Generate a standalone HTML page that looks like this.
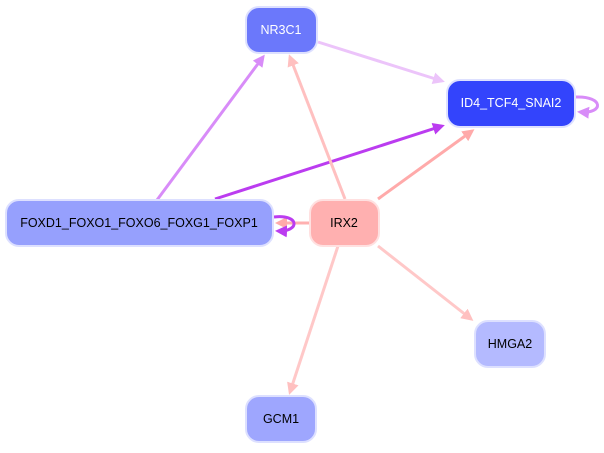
<!DOCTYPE html>
<html><head><style>
body{margin:0;background:#fff;width:604px;height:448px;overflow:hidden}
svg text{font-family:"Liberation Sans",sans-serif;font-size:12.5px;text-anchor:middle;dominant-baseline:central}
</style></head><body>
<svg width="604" height="448" viewBox="0 0 604 448">
<defs>
<marker id="a1" markerWidth="4" markerHeight="4" refX="3" refY="2" orient="auto" markerUnits="strokeWidth"><path d="M0,0L4,2L0,4z" fill="#d88cf8"/></marker>
<marker id="a2" markerWidth="4" markerHeight="4" refX="3" refY="2" orient="auto" markerUnits="strokeWidth"><path d="M0,0L4,2L0,4z" fill="#bb3cf0"/></marker>
<marker id="a3" markerWidth="4" markerHeight="4" refX="3" refY="2" orient="auto" markerUnits="strokeWidth"><path d="M0,0L4,2L0,4z" fill="#ecc4fa"/></marker>
<marker id="a4" markerWidth="4" markerHeight="4" refX="3" refY="2" orient="auto" markerUnits="strokeWidth"><path d="M0,0L4,2L0,4z" fill="#ffc0c0"/></marker>
<marker id="a5" markerWidth="4" markerHeight="4" refX="3" refY="2" orient="auto" markerUnits="strokeWidth"><path d="M0,0L4,2L0,4z" fill="#ffaaaa"/></marker>
</defs>
<g fill="none" stroke-width="3">
<line x1="157" y1="200" x2="263" y2="57" stroke="#d88cf8" marker-end="url(#a1)"/>
<line x1="215" y1="199" x2="442" y2="126" stroke="#bb3cf0" marker-end="url(#a2)"/>
<line x1="318" y1="42" x2="442" y2="81" stroke="#ecc4fa" marker-end="url(#a3)"/>
<line x1="345" y1="199" x2="290" y2="57" stroke="#ffc0c0" marker-end="url(#a4)"/>
<line x1="378" y1="199" x2="472" y2="131" stroke="#ffaaaa" marker-end="url(#a5)"/>
<line x1="378" y1="246" x2="471" y2="319" stroke="#ffc8c8" marker-end="url(#a4)"/>
<line x1="338" y1="246" x2="290" y2="392" stroke="#ffc8c8" marker-end="url(#a4)"/>
<line x1="309" y1="223" x2="278" y2="223" stroke="#ffb0b0" marker-end="url(#a5)"/>
<path d="M274,217 C300,214 300,232 278,231" stroke="#bb3cf0" marker-end="url(#a2)"/>
<path d="M576,97 C604,96 604,114 580,112" stroke="#d88cf8" marker-end="url(#a1)"/>
</g>
<g stroke="#dde0ff" stroke-width="2">
<rect x="246" y="7" width="71" height="46" rx="13" fill="#6b78fb"/>
<rect x="447" y="80" width="128" height="47" rx="13" fill="#3344fc"/>
<rect x="6" y="200" width="267" height="46" rx="13" fill="#96a0fd"/>
<rect x="310" y="200" width="69" height="46" rx="13" fill="#ffb0b0" stroke="#ffe0e0"/>
<rect x="475" y="321" width="70" height="46" rx="13" fill="#b4baff"/>
<rect x="246" y="396" width="70" height="46" rx="13" fill="#9ea6fe"/>
</g>
<text x="281" y="30" fill="#fff">NR3C1</text>
<text x="511" y="103" fill="#fff">ID4_TCF4_SNAI2</text>
<text x="139" y="223" fill="#000">FOXD1_FOXO1_FOXO6_FOXG1_FOXP1</text>
<text x="344" y="223" fill="#000">IRX2</text>
<text x="510" y="344" fill="#000">HMGA2</text>
<text x="281" y="419" fill="#000">GCM1</text>
</svg>
</body></html>
